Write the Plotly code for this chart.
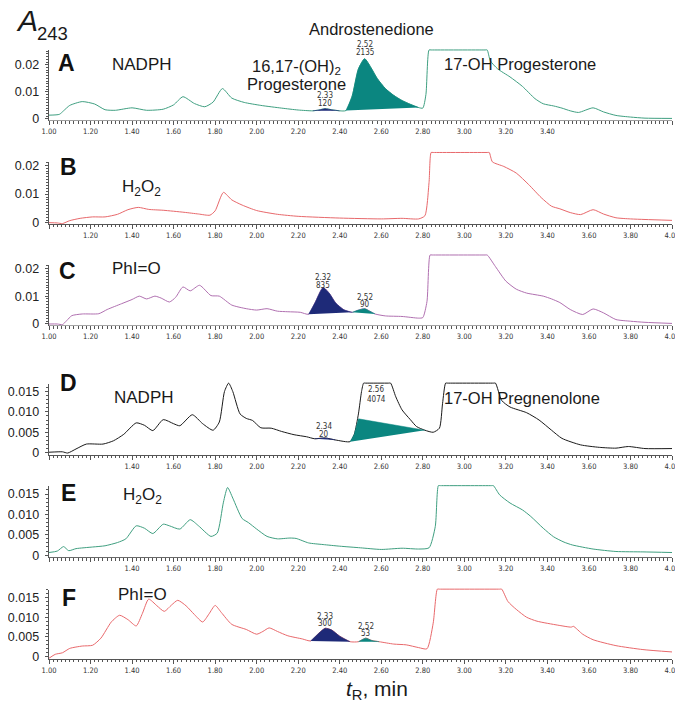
import plotly.graph_objects as go

# ---------------- DATA ----------------
SAT_A, SAT_B, SAT_C = 0.02545, 0.02444, 0.02478   # detector saturation level per panel
SAT_D, SAT_E, SAT_F = 0.01706, 0.01706, 0.01713

curve_A = [(1.00,0.0014),(1.05,0.0017),(1.07,0.0030),(1.10,0.0050),(1.16,0.0064),(1.22,0.0055),(1.27,0.0034),
           (1.32,0.0032),(1.40,0.0041),(1.47,0.0032),(1.55,0.0036),(1.60,0.0052),(1.645,0.0082),(1.70,0.0057),
           (1.75,0.0045),(1.79,0.0062),(1.835,0.0112),(1.88,0.0077),(1.94,0.0061),(2.02,0.0050),(2.12,0.0040),
           (2.20,0.0033),(2.27,0.0030),(2.30,0.0033),(2.33,0.0038),(2.36,0.0034),(2.40,0.0030),(2.43,0.0031),
           (2.46,0.0085),(2.49,0.0185),(2.52,0.0222),(2.55,0.0190),(2.58,0.0150),(2.62,0.0112),(2.66,0.0087),
           (2.70,0.0068),(2.74,0.0054),(2.78,0.0042),(2.80,0.0040),(2.815,0.0090),(2.83,SAT_A),(2.84,SAT_A),
           (3.10,SAT_A),(3.11,SAT_A),(3.125,0.0215),(3.16,0.0185),(3.22,0.0155),(3.28,0.0120),(3.34,0.0075),
           (3.38,0.0056),(3.43,0.0048),(3.47,0.0040),(3.51,0.0030),(3.55,0.0024),(3.62,0.0041),(3.67,0.0026),
           (3.73,0.0013),(3.80,0.0007),(3.87,0.0003),(4.00,0.0002)]

curve_B = [(1.00,0.0001),(1.04,0.0000),(1.065,-0.0002),(1.10,0.0008),(1.15,0.0016),(1.21,0.0021),(1.27,0.0021),
           (1.33,0.0030),(1.38,0.0046),(1.43,0.0054),(1.48,0.0047),(1.55,0.0044),(1.65,0.0037),(1.72,0.0031),
           (1.775,0.0027),(1.80,0.0042),(1.84,0.0106),(1.88,0.0080),(1.93,0.0062),(2.00,0.0043),(2.10,0.0030),
           (2.20,0.0023),(2.40,0.0017),(2.60,0.0014),(2.70,0.0016),(2.78,0.0014),(2.81,0.0025),(2.83,0.0140),
           (2.84,SAT_B),(2.85,SAT_B),(3.11,SAT_B),(3.12,SAT_B),(3.135,0.0212),(3.19,0.0196),(3.25,0.0173),
           (3.31,0.0133),(3.37,0.0088),(3.42,0.0058),(3.46,0.0049),(3.51,0.0036),(3.56,0.0029),(3.62,0.0046),
           (3.67,0.0031),(3.73,0.0018),(3.80,0.0014),(3.87,0.0012),(4.00,0.0009)]

curve_C = [(1.00,0.0000),(1.04,0.0000),(1.065,-0.0002),(1.085,0.0012),(1.11,0.0030),(1.16,0.0036),(1.24,0.0037),
           (1.28,0.0052),(1.35,0.0073),(1.40,0.0088),(1.435,0.0100),(1.47,0.0090),(1.51,0.0100),(1.54,0.0093),
           (1.58,0.0079),(1.61,0.0096),(1.645,0.0133),(1.68,0.0119),(1.725,0.0139),(1.78,0.0102),(1.82,0.0100),
           (1.88,0.0068),(1.95,0.0055),(2.00,0.0050),(2.05,0.0055),(2.10,0.0046),(2.15,0.0044),(2.21,0.0042),
           (2.25,0.0035),(2.28,0.0075),(2.32,0.0131),(2.35,0.0110),(2.38,0.0076),(2.42,0.0051),(2.46,0.0042),
           (2.49,0.0050),(2.52,0.0055),(2.545,0.0046),(2.57,0.0036),(2.62,0.0029),(2.70,0.0027),(2.78,0.0021),
           (2.80,0.0023),(2.82,0.0080),(2.835,SAT_C),(2.845,SAT_C),(3.10,SAT_C),(3.11,SAT_C),(3.15,0.0206),
           (3.20,0.0154),(3.25,0.0125),(3.30,0.0111),(3.38,0.0100),(3.42,0.0090),(3.46,0.0077),(3.51,0.0052),
           (3.57,0.0034),(3.62,0.0054),(3.67,0.0040),(3.73,0.0016),(3.80,0.0010),(3.87,0.0006),(4.00,0.0002)]

curve_D = [(1.00,0.0001),(1.065,0.0002),(1.09,-0.0001),(1.13,0.0009),(1.18,0.0021),(1.26,0.0021),(1.31,0.0029),
           (1.36,0.0045),(1.42,0.0073),(1.46,0.0067),(1.50,0.0054),(1.55,0.0081),(1.60,0.0071),(1.63,0.0066),
           (1.69,0.0093),(1.74,0.0071),(1.79,0.0055),(1.82,0.0075),(1.845,0.0150),(1.865,SAT_D),(1.885,0.0150),
           (1.92,0.0095),(1.95,0.0084),(1.98,0.0079),(2.02,0.0061),(2.07,0.0060),(2.12,0.0052),(2.18,0.0044),
           (2.24,0.0039),(2.28,0.0034),(2.33,0.0036),(2.38,0.0031),(2.45,0.0027),(2.47,0.0045),(2.49,0.0095),
           (2.505,0.0150),(2.515,SAT_D),(2.525,SAT_D),(2.635,SAT_D),(2.645,SAT_D),(2.67,0.0137),(2.70,0.0105),
           (2.74,0.0081),(2.77,0.0064),(2.81,0.0055),(2.85,0.0050),(2.88,0.0060),(2.895,0.0120),(2.91,SAT_D),
           (2.92,SAT_D),(3.14,SAT_D),(3.15,SAT_D),(3.18,0.0128),(3.22,0.0112),(3.30,0.0098),(3.36,0.0080),
           (3.42,0.0055),(3.47,0.0035),(3.56,0.0019),(3.65,0.0013),(3.73,0.0011),(3.79,0.0015),(3.87,0.0010),
           (4.00,0.0010)]

curve_E = [(1.00,0.00065),(1.04,0.0010),(1.07,0.0021),(1.095,0.0011),(1.13,0.0016),(1.21,0.0020),(1.27,0.0023),
           (1.33,0.0031),(1.37,0.0040),(1.42,0.0072),(1.46,0.0066),(1.50,0.0053),(1.55,0.0076),(1.58,0.0072),
           (1.63,0.0064),(1.68,0.0087),(1.72,0.0072),(1.78,0.0046),(1.81,0.0054),(1.84,0.0130),(1.86,0.0166),
           (1.885,0.0140),(1.93,0.0090),(1.96,0.0080),(2.00,0.0064),(2.05,0.0046),(2.10,0.0040),(2.16,0.0042),
           (2.19,0.0041),(2.25,0.0030),(2.32,0.0026),(2.40,0.0022),(2.50,0.0018),(2.60,0.0014),(2.70,0.0017),
           (2.78,0.0015),(2.83,0.0018),(2.86,0.0070),(2.875,SAT_E),(2.885,SAT_E),(3.13,SAT_E),(3.14,SAT_E),
           (3.17,0.0148),(3.22,0.0128),(3.28,0.0111),(3.32,0.0095),(3.38,0.0066),(3.43,0.0045),(3.48,0.0032),
           (3.52,0.0025),(3.62,0.0015),(3.73,0.0009),(3.86,0.0008),(4.00,0.00065)]

curve_F = [(1.00,-0.0004),(1.03,0.0006),(1.065,0.0010),(1.10,0.0021),(1.16,0.0027),(1.21,0.0029),(1.25,0.0047),
           (1.30,0.0088),(1.34,0.0105),(1.38,0.0094),(1.42,0.0078),(1.45,0.0110),(1.48,0.0146),(1.52,0.0129),
           (1.555,0.0115),(1.59,0.0131),(1.62,0.0143),(1.66,0.0129),(1.70,0.0107),(1.74,0.0088),(1.77,0.0108),
           (1.80,0.0130),(1.83,0.0112),(1.88,0.0082),(1.95,0.0069),(2.00,0.0057),(2.03,0.0064),(2.06,0.0073),
           (2.10,0.0064),(2.15,0.0053),(2.22,0.0045),(2.26,0.0040),(2.30,0.0060),(2.33,0.0072),(2.36,0.0068),
           (2.40,0.0052),(2.45,0.0038),(2.49,0.0038),(2.525,0.0047),(2.555,0.0041),(2.59,0.0038),(2.66,0.0032),
           (2.72,0.0030),(2.78,0.0023),(2.82,0.0020),(2.85,0.0085),(2.87,SAT_F),(2.88,SAT_F),(3.17,SAT_F),
           (3.18,SAT_F),(3.21,0.0140),(3.25,0.0120),(3.30,0.0100),(3.35,0.0090),(3.45,0.0080),(3.515,0.0075),
           (3.525,0.0077),(3.57,0.0057),(3.62,0.0043),(3.73,0.0028),(3.86,0.0018),(4.00,0.0012)]

# integrated peak windows (start, end retention time)
navy_windows = {"A": (2.27, 2.40), "C": (2.25, 2.46), "D": (2.28, 2.38), "F": (2.26, 2.45)}
teal_windows = {"A": (2.43, 2.78), "C": (2.46, 2.57), "F": (2.49, 2.59)}
teal_polygon_D = [(2.45, 0.0027), (2.47, 0.0045), (2.49, 0.0083), (2.81, 0.0055)]

# peak labels: (retention time text, area text, retention time)
peak_labels = {"A": [("2.33", "120", 2.33), ("2.52", "2135", 2.52)],
               "C": [("2.32", "835", 2.32), ("2.52", "90", 2.52)],
               "D": [("2.34", "20", 2.325), ("2.56", "4074", 2.575)],
               "F": [("2.33", "300", 2.33), ("2.52", "53", 2.525)]}

x_tick_values = [1.0, 1.2, 1.4, 1.6, 1.8, 2.0, 2.2, 2.4, 2.6, 2.8, 3.0, 3.2, 3.4, 3.6, 3.8, 4.0]
x_tick_shown = {"A": (1.0, 3.4), "B": (1.2, 4.0), "C": (1.0, 4.0),
                "D": (1.4, 4.0), "E": (1.4, 4.0), "F": (1.0, 4.0)}
y_ticks_big = [0, 0.01, 0.02]
y_ticks_big_text = ["0", "0.01", "0.02"]
y_ticks_small = [0, 0.005, 0.010, 0.015]
y_ticks_small_text = ["0", "0.005", "0.010", "0.015"]

panel_letters = ["A", "B", "C", "D", "E", "F"]
conditions = ["NADPH", "H<sub>2</sub>O<sub>2</sub>", "PhI=O", "NADPH", "H<sub>2</sub>O<sub>2</sub>", "PhI=O"]

# ---------------- LAYOUT / STYLE ----------------
OFF = 8                      # the page body margin shifts the figure by 8 px
W, H = 683 - OFF, 718 - 2 * OFF
X0, X1 = 43, 672             # reference pixel of t = 1.00 and t = 4.00
ML = X0 - OFF
MR = W - (X1 - OFF)
PW = W - ML - MR

def ppy(p):
    return 1 - (p - OFF) / H

def ppx(p):
    return (p - X0) / PW

GREEN, RED, PURPLE, BLACK = "#3f9f80", "#e8686b", "#b070b0", "#1a1a1a"
TEAL, NAVY = "#0b8680", "#1e2a78"
AX = "#555555"
SANS = "Liberation Sans, Arial, sans-serif"
NARROW = "Liberation Sans Narrow, Arial Narrow, DejaVu Sans Condensed, sans-serif"

# zero pixel, px per unit, bottom px, axis-top px, data-top px (reference pixels)
geom = {"A": (116.5, 2750, 118, 47, 45),
        "B": (222.0, 2925, 223, 160, 149),
        "C": (324.5, 2825, 326, 265, 253),
        "D": (455.0, 4133, 457, 385, 383),
        "E": (559.0, 4133, 561, 489, 487),
        "F": (662.0, 4000, 664, 594, 592)}
curves = {"A": curve_A, "B": curve_B, "C": curve_C, "D": curve_D, "E": curve_E, "F": curve_F}
colors = {"A": GREEN, "B": RED, "C": PURPLE, "D": BLACK, "E": GREEN, "F": RED}

fig = go.Figure()
layout = {}
annotations = []

def axname(prefix, n):
    return prefix + ("" if n == 1 else str(n))

for i, key in enumerate(panel_letters, start=1):
    zero, scale, bot, atop, dtop = geom[key]
    xi = axname("x", i)
    yv = axname("y", 2 * i - 1)
    yd = axname("y", 2 * i)
    lo, hi = x_tick_shown[key]
    ttext = [("%.2f" % v) if lo - 1e-9 <= v <= hi + 1e-9 else "" for v in x_tick_values]
    layout[axname("xaxis", i)] = dict(
        domain=[0, 1], range=[1.0, 4.0], anchor=yv, showline=True, linecolor=AX, linewidth=0.8,
        ticks="outside", ticklen=4, tickwidth=0.8, tickcolor=AX, tickmode="array",
        tickvals=x_tick_values, ticktext=ttext, tickfont=dict(family=NARROW, size=7.5, color="#333"),
        ticklabeloverflow="allow",
        minor=dict(dtick=0.02, tick0=1.0, ticks="outside", ticklen=2.5, tickwidth=0.7, tickcolor=AX),
        showgrid=False, zeroline=False, fixedrange=True)
    big = key in ("A", "B", "C")
    layout[axname("yaxis", 2 * i - 1)] = dict(
        domain=[ppy(bot), ppy(atop)], range=[(zero - bot) / scale, (zero - atop) / scale], anchor=xi,
        showline=True, linecolor=AX, linewidth=0.8, ticks="outside", ticklen=3.5, tickwidth=0.8,
        tickcolor=AX, tickmode="array", ticklabelstandoff=3,
        tickvals=y_ticks_big if big else y_ticks_small,
        ticktext=y_ticks_big_text if big else y_ticks_small_text,
        tickfont=dict(family=SANS, size=12.5, color="#222"),
        minor=dict(dtick=0.001, tick0=0, ticks="outside", ticklen=2, tickwidth=0.6, tickcolor=AX),
        showgrid=False, zeroline=False, fixedrange=True)
    layout[axname("yaxis", 2 * i)] = dict(
        domain=[ppy(bot), ppy(dtop)], range=[(zero - bot) / scale, (zero - dtop) / scale], anchor=xi,
        visible=False, fixedrange=True)

    # empty trace so the visible axis pair is drawn
    fig.add_trace(go.Scatter(x=[None], y=[None], mode="lines", xaxis=xi, yaxis=yv, hoverinfo="skip"))

    cur = curves[key]
    tx = [p[0] for p in cur]
    vy = [p[1] for p in cur]
    fig.add_trace(go.Scatter(x=tx, y=vy, mode="lines", xaxis=xi, yaxis=yd, hoverinfo="skip",
                             line=dict(color=colors[key], width=1, shape="spline", smoothing=0.6)))
    for win, col in ((navy_windows.get(key), NAVY), (teal_windows.get(key), TEAL)):
        if win is None:
            continue
        pts = [p for p in cur if win[0] - 1e-9 <= p[0] <= win[1] + 1e-9]
        fig.add_trace(go.Scatter(x=[p[0] for p in pts], y=[p[1] for p in pts], mode="lines",
                                 fill="toself", fillcolor=col, xaxis=xi, yaxis=yd, hoverinfo="skip",
                                 line=dict(color=col, width=0.5, shape="spline", smoothing=0.6)))
    if key == "D":
        fig.add_trace(go.Scatter(x=[p[0] for p in teal_polygon_D], y=[p[1] for p in teal_polygon_D],
                                 mode="lines", fill="toself", fillcolor=TEAL, xaxis=xi, yaxis=yd,
                                 hoverinfo="skip", line=dict(color=TEAL, width=0.5)))

def ann(text, x, y, size, color="#1a1a1a", family=SANS):
    annotations.append(dict(text=text, x=x, y=y, xref="paper", yref="paper", showarrow=False,
                            xanchor="center", yanchor="middle",
                            font=dict(family=family, size=size, color=color)))

# title A243
ann("<i>A</i>", ppx(21), ppy(17), 30)
ann("243", ppx(47), ppy(30), 18.5)

letter_pos = {"A": (61, 60), "B": (63, 165), "C": (62, 271), "D": (63, 384), "E": (63, 496), "F": (63, 602)}
cond_pos = {"A": (137, 61), "B": (136, 187), "C": (131, 268), "D": (139, 399), "E": (137, 499), "F": (137, 599)}
for k, c in zip(panel_letters, conditions):
    ann("<b>%s</b>" % k, ppx(letter_pos[k][0]), ppy(letter_pos[k][1]), 23, "#111")
    ann(c, ppx(cond_pos[k][0]), ppy(cond_pos[k][1]), 17)

ann("16,17-(OH)<sub>2</sub>", ppx(293), ppy(64), 16.5)
ann("Progesterone", ppx(293), ppy(81), 16.5)
ann("Androstenedione", ppx(369), ppy(25), 16.5)
ann("17-OH Progesterone", ppx(519), ppy(61), 16.5)
ann("17-OH Pregnenolone", ppx(521), ppy(400), 16.5)

label_y = {"A": [(93, 101), (41, 49)], "C": [(277, 285), (298, 305)],
           "D": [(428, 437), (391, 401)], "F": [(621, 628), (631, 638)]}
for k, labs in peak_labels.items():
    for (rt, area, t), (y1, y2) in zip(labs, label_y[k]):
        ann(rt, (t - 1.0) / 3.0, ppy(y1), 8, "#333", NARROW)
        ann(area, (t - 1.0) / 3.0, ppy(y2), 8, "#333", NARROW)

ann("<i>t</i><sub>R</sub>, min", ppx(374), ppy(696), 21)

fig.update_layout(width=W, height=H, margin=dict(l=ML, r=MR, t=0, b=0, pad=0),
                  paper_bgcolor="white", plot_bgcolor="white", showlegend=False,
                  annotations=annotations, **layout)
fig.write_html("out.html")
